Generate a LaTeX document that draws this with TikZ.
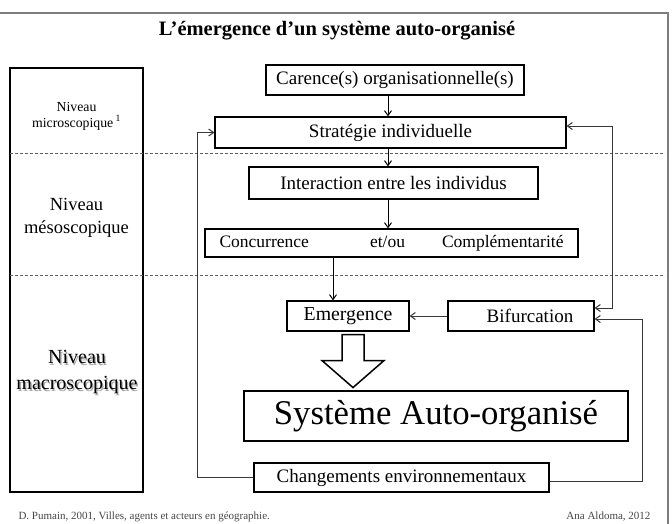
\documentclass[tikz,border=0pt]{standalone}
\usepackage{fontspec}
\setmainfont{Liberation Serif}
\usepackage{xcolor}
\usepackage{tikz}
\usetikzlibrary{arrows.meta, positioning, calc}
\definecolor{framegray}{RGB}{125,125,125}
\definecolor{dashgray}{RGB}{95,95,95}
\definecolor{loopgray}{RGB}{55,55,55}
\definecolor{notegray}{RGB}{70,70,70}
\newcommand{\shadowed}[1]{\rlap{\kern1.3pt\raisebox{-1.3pt}{\textcolor{black!35}{#1}}}#1}
\tikzset{
  x=1pt, y=-1pt,
  flowblock/.style={
    rectangle, draw=black, line width=1.1pt, inner sep=0pt,
    align=center, font=\fontsize{19}{22}\selectfont
  },
  levelblock/.style={rectangle, draw=black, line width=2pt, inner sep=0pt},
  leveltext/.style={align=center, inner sep=0pt},
  levelsep/.style={draw=dashgray, densely dashed, line width=0.7pt},
  flowline/.style={
    draw=black, -{Straight Barb[length=5pt, width=7pt]}, line width=1pt
  },
  loopline/.style={
    draw=loopgray, -{Straight Barb[length=5pt, width=7pt]}, line width=1pt
  },
  bidirline/.style={
    draw=loopgray, {Straight Barb[length=5pt, width=7pt]}-{Straight Barb[length=5pt, width=7pt]}, line width=1pt
  },
  hollowarrow/.style={draw=black, fill=white, line width=1.5pt, line join=miter}
}
\begin{document}
\begin{tikzpicture}
  \useasboundingbox (0,0) rectangle (672,523);
  \draw[draw=framegray, line width=1.5pt] (-5,13) rectangle (668,540);

  \node[font=\bfseries\fontsize{20.5}{24}\selectfont] (title) at (337,31)
    {L’émergence d’un système auto-organisé};

  % scale levels on the left
  \node[levelblock, minimum width=133pt, minimum height=424pt] (levels) at (76.5,280) {};
  \node[leveltext, font=\fontsize{13.8}{16}\selectfont] (micro) at (76.5,116)
    {Niveau\\microscopique\,\textsuperscript{1}};
  \node[leveltext, font=\fontsize{18.5}{23}\selectfont] (meso) at (76.5,218)
    {Niveau\\mésoscopique};
  \node[leveltext, font=\fontsize{20}{26}\selectfont] (macro) at (77,373)
    {\shadowed{Niveau}\\\shadowed{macroscopique}};
  \draw[levelsep] (10,153) -- (665,153);
  \draw[levelsep] (10,275) -- (665,275);

  % flow
  \node[flowblock, minimum width=258pt, minimum height=30pt] (carence) at (395,80)
    {Carence(s) organisationnelle(s)};
  \node[flowblock, minimum width=351pt, minimum height=31pt] (strategie) at (390.5,132.5)
    {Stratégie individuelle};
  \node[flowblock, minimum width=289pt, minimum height=32pt] (interaction) at (393.5,183)
    {Interaction entre les individus};
  \node[flowblock, minimum width=373pt, minimum height=28pt, font=\fontsize{17.5}{20}\selectfont] (concurrence) at (391.5,243)
    {\makebox[344pt]{Concurrence\hfill et/ou\hspace{37pt}Complémentarité}};
  \node[flowblock, minimum width=122pt, minimum height=30pt, font=\fontsize{19.8}{22}\selectfont] (emergence) at (348,316)
    {Emergence};
  \node[flowblock, minimum width=146pt, minimum height=30pt] (bifurcation) at (521,316)
    {\hspace*{18pt}Bifurcation};
  \node[flowblock, minimum width=384pt, minimum height=50pt, font=\fontsize{34.7}{38}\selectfont] (systeme) at (436,416)
    {Système Auto-organisé};
  \node[flowblock, minimum width=295pt, minimum height=29pt] (changements) at (401.5,477.5)
    {Changements environnementaux};

  \coordinate (spine) at (388,0);
  \coordinate (concspine) at (333,0);
  \coordinate (leftrail) at (197,0);
  \coordinate (rightrail) at (612,0);
  \coordinate (outerrail) at (642,0);
  \coordinate (strat_in) at ($(strategie.east)+(0,-6.5)$);
  \coordinate (bifur_top) at ($(bifurcation.east)+(0,-8)$);
  \coordinate (bifur_low) at ($(bifurcation.east)+(0,3)$);
  \coordinate (chang_out) at ($(changements.east)+(0,4)$);

  \draw[flowline] (carence.south -| spine) -- (strategie.north -| spine);
  \draw[flowline] (strategie.south -| spine) -- (interaction.north -| spine);
  \draw[flowline] (interaction.south -| spine) -- (concurrence.north -| spine);
  \draw[flowline] (concurrence.south -| concspine) -- (emergence.north -| concspine);
  \draw[loopline] (bifurcation.west) -- (emergence.east);
  \draw[loopline] (changements.west) -- (changements.west -| leftrail) |- (strategie.west);
  \draw[bidirline] (strat_in) -- (strat_in -| rightrail) -- (bifur_top -| rightrail) -- (bifur_top);
  \draw[loopline] (chang_out) -- (chang_out -| outerrail) -- (bifur_low -| outerrail) -- (bifur_low);

  % hollow arrow to the self-organised system
  \begin{scope}[shift={($(emergence.south)+(5,3)$)}]
    \draw[hollowarrow] (-11,0) -- (11,0) -- (11,26) -- (31,26) -- (0,53)
      -- (-31,26) -- (-11,26) -- cycle;
  \end{scope}

  \node[anchor=west, font=\fontsize{11}{13}\selectfont, text=notegray] (source) at (15,517)
    {D. Pumain, 2001, Villes, agents et acteurs en géographie.};
  \node[anchor=east, font=\fontsize{11}{13}\selectfont, text=notegray] (signature) at (654,517)
    {Ana Aldoma, 2012};
\end{tikzpicture}
\end{document}
